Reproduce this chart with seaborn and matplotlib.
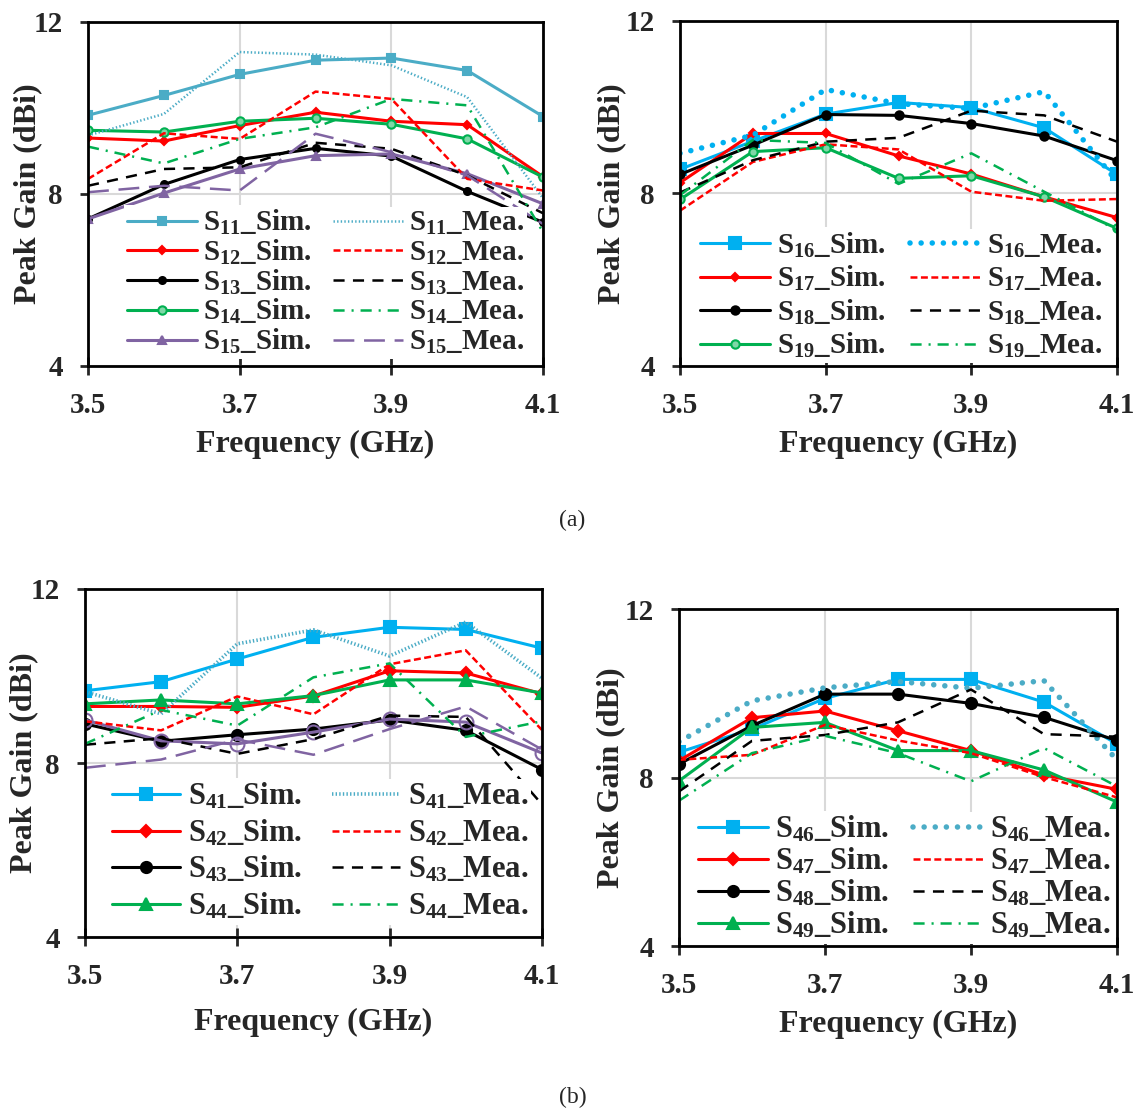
import matplotlib
matplotlib.use("Agg")
import matplotlib.pyplot as plt
import seaborn as sns

sns.set_style("white")
plt.rcParams["font.family"] = ["Liberation Serif", "DejaVu Serif"]
plt.rcParams["font.weight"] = "bold"
plt.rcParams["mathtext.fontset"] = "custom"
plt.rcParams["mathtext.rm"] = "Liberation Serif:bold"
plt.rcParams["mathtext.it"] = "Liberation Serif:bold"
plt.rcParams["mathtext.bf"] = "Liberation Serif:bold"
plt.rcParams["lines.scale_dashes"] = False

freq = [3.5, 3.6, 3.7, 3.8, 3.9, 4.0, 4.1]

# (a) left: ports 11-15
a_names = ["11", "12", "13", "14", "15"]
s11_sim = [9.83, 10.29, 10.78, 11.11, 11.16, 10.87, 9.80]
s11_mea = [9.36, 9.86, 11.30, 11.24, 10.99, 10.25, 7.90]
s12_sim = [9.30, 9.23, 9.59, 9.90, 9.69, 9.61, 8.40]
s12_mea = [8.35, 9.41, 9.28, 10.38, 10.21, 8.35, 8.08]
s13_sim = [7.42, 8.22, 8.80, 9.06, 8.88, 8.06, 7.34]
s13_mea = [8.19, 8.58, 8.62, 9.19, 9.05, 8.43, 7.55]
s14_sim = [9.48, 9.44, 9.69, 9.76, 9.62, 9.28, 8.39]
s14_mea = [9.10, 8.71, 9.28, 9.55, 10.21, 10.06, 7.11]
s15_sim = [7.42, 8.02, 8.58, 8.89, 8.93, 8.47, 7.77]
s15_mea = [8.04, 8.19, 8.08, 9.40, 8.97, 8.43, 7.30]

# (a) right: ports 16-19
b_names = ["16", "17", "18", "19"]
s16_sim = [8.56, 9.21, 9.84, 10.11, 9.99, 9.52, 8.44]
s16_mea = [8.93, 9.35, 10.41, 10.08, 9.97, 10.36, 8.27]
s17_sim = [8.25, 9.39, 9.39, 8.87, 8.45, 7.92, 7.44]
s17_mea = [7.60, 8.73, 9.14, 9.02, 8.04, 7.83, 7.87]
s18_sim = [8.44, 9.12, 9.83, 9.81, 9.62, 9.33, 8.76]
s18_mea = [8.02, 8.77, 9.20, 9.29, 9.92, 9.81, 9.20]
s19_sim = [7.86, 8.97, 9.06, 8.35, 8.41, 7.92, 7.19]
s19_mea = [7.96, 9.24, 9.17, 8.22, 8.93, 8.04, 7.15]

# (b) left: ports 41-45 (45 not in legend)
c_names = ["41", "42", "43", "44"]
s41_sim = [9.66, 9.87, 10.39, 10.89, 11.12, 11.07, 10.64]
s41_mea = [9.64, 9.13, 10.74, 11.06, 10.46, 11.24, 9.95]
s42_sim = [9.30, 9.30, 9.28, 9.54, 10.12, 10.07, 9.59]
s42_mea = [8.96, 8.75, 9.53, 9.12, 10.27, 10.59, 8.76]
s43_sim = [8.90, 8.50, 8.65, 8.78, 8.99, 8.75, 7.85]
s43_mea = [8.42, 8.57, 8.21, 8.55, 9.09, 9.06, 7.05]
s44_sim = [9.36, 9.45, 9.36, 9.55, 9.91, 9.91, 9.61]
s44_mea = [8.44, 9.22, 8.86, 9.97, 10.29, 8.60, 8.96]
s45_sim = [8.99, 8.51, 8.44, 8.71, 9.01, 8.94, 8.23]
s45_mea = [7.89, 8.08, 8.54, 8.19, 8.78, 9.30, 8.31]

# (b) right: ports 46-49
d_names = ["46", "47", "48", "49"]
s46_sim = [8.60, 9.15, 9.88, 10.33, 10.33, 9.79, 8.80]
s46_mea = [8.85, 9.82, 10.13, 10.28, 10.12, 10.30, 8.42]
s47_sim = [8.40, 9.42, 9.58, 9.11, 8.64, 8.06, 7.72]
s47_mea = [8.42, 8.54, 9.25, 8.88, 8.58, 8.01, 7.53]
s48_sim = [8.32, 9.23, 9.98, 9.98, 9.76, 9.43, 8.88]
s48_mea = [7.67, 8.87, 9.01, 9.31, 10.09, 9.03, 8.97]
s49_sim = [7.92, 9.19, 9.31, 8.64, 8.64, 8.18, 7.42]
s49_mea = [7.45, 8.58, 8.99, 8.58, 7.91, 8.70, 7.79]

TEAL = "#4BACC6"
BLUE = "#00B0F0"
RED = "#FF0000"
BLACK = "#000000"
GREEN = "#00B050"
PURPLE = "#8064A2"

DOT = (0, (1, 1.6))
BIGDOT = (0, (0.01, 8))
SHORTDASH = (0, (5, 2.5))
DASH = (0, (8, 6))
DASHDOT = (0, (8, 5, 1.5, 5))
LONGDASH = (0, (15, 7))

fig = plt.figure(figsize=(11.45, 11.13), dpi=100)


def sim_line(ax, y, color, marker, ms, label, mfc=None, lw=2.2):
    sns.lineplot(x=freq, y=y, ax=ax, color=color, lw=lw, marker=marker,
                 markersize=ms, markeredgecolor=color,
                 markerfacecolor=mfc if mfc else color, markeredgewidth=1.5,
                 label=label, legend=False)


def mea_line(ax, y, color, ls, label, lw=1.8, cap="butt"):
    sns.lineplot(x=freq, y=y, ax=ax, color=color, lw=lw, linestyle=ls,
                 dash_capstyle=cap, label=label, legend=False)


def setup(ax, xpad, ypad):
    ax.set_xlim(3.5, 4.1)
    ax.set_ylim(4, 12)
    ax.set_xticks([3.5, 3.7, 3.9, 4.1])
    ax.set_xticklabels(["3.5", "3.7", "3.9", "4.1"])
    ax.set_yticks([4, 8, 12])
    ax.grid(True, color="#D9D9D9", lw=1.5)
    ax.set_axisbelow(True)
    for s in ax.spines.values():
        s.set_linewidth(2)
        s.set_color("black")
    ax.tick_params(axis="x", direction="inout", length=13, width=2,
                   labelsize=21, pad=12, bottom=True)
    ax.tick_params(axis="y", direction="out", length=6, width=2,
                   labelsize=21, pad=12, left=True)
    ax.set_xlabel("Frequency (GHz)", fontsize=23, fontweight="bold", labelpad=xpad)
    ax.set_ylabel("Peak Gain (dBi)", fontsize=23, fontweight="bold", labelpad=ypad)


def add_legend(ax, fs, x1, x2, y0, lspace, hl, htp):
    # one legend per column so both columns can be lined up row by row
    h, l = ax.get_legend_handles_labels()
    keep = [(a, b) for a, b in zip(h, l) if not b.startswith("_")]
    n = len(keep) // 2
    kw = dict(loc="lower left", fontsize=fs, frameon=True, facecolor="white",
              edgecolor="none", framealpha=1, fancybox=False, borderpad=0.1,
              handlelength=hl, handletextpad=htp, borderaxespad=0)
    sims, meas = keep[:n], keep[n:]
    leg1 = ax.legend([k[0] for k in sims], [k[1] for k in sims],
                     bbox_to_anchor=(x1, y0), labelspacing=lspace, **kw)
    ax.add_artist(leg1)
    leg2 = ax.legend([k[0] for k in meas], [k[1] for k in meas],
                     bbox_to_anchor=(x2, y0), labelspacing=lspace, **kw)
    fig.canvas.draw()
    r = fig.canvas.get_renderer()
    c1 = [t.get_window_extent(r).y0 for t in leg1.get_texts()]
    c2 = [t.get_window_extent(r).y0 for t in leg2.get_texts()]
    p1 = (c1[0] - c1[-1]) / (n - 1)
    p2 = (c2[0] - c2[-1]) / (n - 1)
    fs_px = fs * fig.dpi / 72
    ls2 = lspace + (p1 - p2) / fs_px
    axh = ax.get_window_extent(r).height
    dy = (c1[-1] - c2[-1]) / axh
    ax.legend([k[0] for k in meas], [k[1] for k in meas],
              bbox_to_anchor=(x2, y0 + dy), labelspacing=ls2, **kw)


def lab(n, kind):
    return "S$_{" + n + "}$_" + kind


# panel (a) left
ax = fig.add_axes([0.0769, 0.6712, 0.3974, 0.3091])
setup(ax, 8, -6)
a_sim = [s11_sim, s12_sim, s13_sim, s14_sim, s15_sim]
a_mea = [s11_mea, s12_mea, s13_mea, s14_mea, s15_mea]
a_col = [TEAL, RED, BLACK, GREEN, PURPLE]
a_mk = [("s", 6, None), ("D", 4, None), ("o", 5, None), ("o", 6, "#7FD8A7"), ("^", 6, None)]
a_ls = [DOT, SHORTDASH, DASH, DASHDOT, LONGDASH]
for i in range(5):
    sim_line(ax, a_sim[i], a_col[i], a_mk[i][0], a_mk[i][1], lab(a_names[i], "Sim."), a_mk[i][2])
for i in range(5):
    mea_line(ax, a_mea[i], a_col[i], a_ls[i], lab(a_names[i], "Mea."))
add_legend(ax, 21, 0.079, 0.533, 0.02, 0.02, 2.4, 0.2)

# panel (a) right
ax = fig.add_axes([0.5939, 0.6712, 0.3817, 0.3100])
setup(ax, 8, 0)
b_sim = [s16_sim, s17_sim, s18_sim, s19_sim]
b_mea = [s16_mea, s17_mea, s18_mea, s19_mea]
b_col = [BLUE, RED, BLACK, GREEN]
b_mk = [("s", 9, None), ("D", 4, None), ("o", 6, None), ("o", 6, "#7FD8A7")]
b_ls = [BIGDOT, SHORTDASH, DASH, DASHDOT]
for i in range(4):
    sim_line(ax, b_sim[i], b_col[i], b_mk[i][0], b_mk[i][1], lab(b_names[i], "Sim."), b_mk[i][2])
for i in range(4):
    if i == 0:
        mea_line(ax, b_mea[i], b_col[i], b_ls[i], lab(b_names[i], "Mea."), lw=4, cap="round")
    else:
        mea_line(ax, b_mea[i], b_col[i], b_ls[i], lab(b_names[i], "Mea."))
add_legend(ax, 21, 0.039, 0.519, 0.008, 0.15, 2.4, 0.25)

# panel (b) left
ax = fig.add_axes([0.0742, 0.1581, 0.3991, 0.3127])
setup(ax, 13, -5.5)
c_sim = [s41_sim, s42_sim, s43_sim, s44_sim]
c_mea = [s41_mea, s42_mea, s43_mea, s44_mea]
c_col = [BLUE, RED, BLACK, GREEN]
c_mea_col = [TEAL, RED, BLACK, GREEN]
c_mk = [("s", 9, None), ("D", 6, None), ("o", 8, None), ("^", 8, None)]
c_ls = [DOT, SHORTDASH, DASH, DASHDOT]
for i in range(4):
    sim_line(ax, c_sim[i], c_col[i], c_mk[i][0], c_mk[i][1], lab(c_names[i], "Sim."), c_mk[i][2])
sim_line(ax, s45_sim, PURPLE, "o", 10, "_s45", "none")
for i in range(4):
    lw = 2.6 if i == 0 else 1.8
    mea_line(ax, c_mea[i], c_mea_col[i], c_ls[i], lab(c_names[i], "Mea."), lw=lw)
mea_line(ax, s45_mea, PURPLE, LONGDASH, "_s45m")
add_legend(ax, 22, 0.0525, 0.534, 0.036, 0.2, 2.22, 0.26)

# panel (b) right
ax = fig.add_axes([0.5930, 0.1500, 0.3825, 0.3028])
setup(ax, 8, 0)
d_sim = [s46_sim, s47_sim, s48_sim, s49_sim]
d_mea = [s46_mea, s47_mea, s48_mea, s49_mea]
d_col = [BLUE, RED, BLACK, GREEN]
d_mea_col = [TEAL, RED, BLACK, GREEN]
d_mk = [("s", 9, None), ("D", 6, None), ("o", 8, None), ("^", 8, None)]
d_ls = [BIGDOT, SHORTDASH, DASH, DASHDOT]
for i in range(4):
    sim_line(ax, d_sim[i], d_col[i], d_mk[i][0], d_mk[i][1], lab(d_names[i], "Sim."), d_mk[i][2])
for i in range(4):
    if i == 0:
        mea_line(ax, d_mea[i], d_mea_col[i], d_ls[i], lab(d_names[i], "Mea."), lw=4, cap="round")
    else:
        mea_line(ax, d_mea[i], d_mea_col[i], d_ls[i], lab(d_names[i], "Mea."))
add_legend(ax, 22, 0.0365, 0.527, 0.006, 0.05, 2.29, 0.23)

fig.text(0.5, 1 - 520 / 1113, "(a)", fontsize=17, fontweight="normal",
         ha="center", va="center")
fig.text(0.5, 1 - 1097 / 1113, "(b)", fontsize=17, fontweight="normal",
         ha="center", va="center")

fig.savefig("out.png", dpi=100, facecolor="white")
